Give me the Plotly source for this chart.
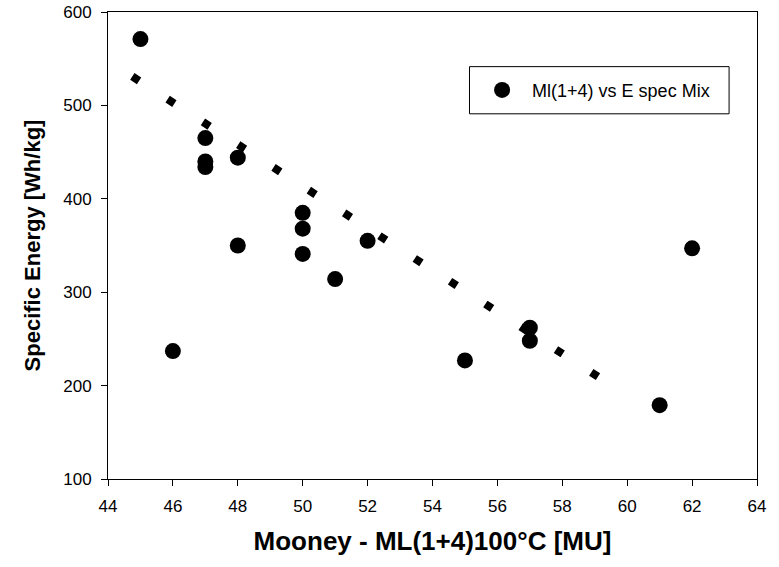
import plotly.graph_objects as go

# Data
mooney = [45, 46, 47, 47, 47, 48, 48, 50, 50, 50, 51, 52, 55, 57, 57, 61, 62]
energy = [571, 237, 465, 440, 434, 444, 350, 385, 368, 341, 314, 355, 227, 262, 248, 179, 347]

# Trend (regression) line end points
trend_x = [44.75, 59.15]
trend_y = [531.0, 208.5]

series_name = "Ml(1+4) vs E spec Mix"
x_title = "Mooney - ML(1+4)100°C [MU]"
y_title = "Specific Energy [Wh/kg]"
x_ticks = [44, 46, 48, 50, 52, 54, 56, 58, 60, 62, 64]
y_ticks = [100, 200, 300, 400, 500, 600]

font_family = "Liberation Sans, Arial, sans-serif"

fig = go.Figure()
fig.add_trace(go.Scatter(
    x=trend_x, y=trend_y, mode="lines",
    line=dict(color="black", width=8, dash="8px,34px"),
    showlegend=False, hoverinfo="skip",
))
fig.add_trace(go.Scatter(
    x=mooney, y=energy, mode="markers", name=series_name,
    marker=dict(color="black", size=16, symbol="circle"),
))

axis_common = dict(
    showline=True, linecolor="black", linewidth=1, mirror=True,
    ticks="outside", ticklen=6, tickcolor="black", tickwidth=1,
    showgrid=False, zeroline=False, automargin=False,
    tickfont=dict(family=font_family, size=17, color="black"),
)

fig.update_layout(
    width=779, height=567,
    margin=dict(l=108, r=22, t=12, b=88),
    paper_bgcolor="white", plot_bgcolor="white",
    font=dict(family=font_family, color="black"),
    xaxis=dict(range=[44, 64], tickvals=x_ticks, ticklabelstandoff=6,
               title=dict(text="<b>" + x_title + "</b>",
                          font=dict(family=font_family, size=26, color="black"),
                          standoff=16),
               **axis_common),
    yaxis=dict(range=[100, 600], tickvals=y_ticks, ticklabelstandoff=6,
               title=dict(text="<b>" + y_title + "</b>",
                          font=dict(family=font_family, size=22, color="black"),
                          standoff=16),
               **axis_common),
    legend=dict(
        x=0.561, y=0.8325, xanchor="left", yanchor="middle",
        borderwidth=0, bgcolor="rgba(0,0,0,0)",
        font=dict(family=font_family, size=18, color="black"),
        itemwidth=50,
    ),
    shapes=[dict(
        type="rect", xref="paper", yref="paper",
        x0=0.557, x1=0.957, y0=0.782, y1=0.883,
        line=dict(color="black", width=1), fillcolor="rgba(0,0,0,0)",
        layer="below",
    )],
)

fig.write_html("out.html")
